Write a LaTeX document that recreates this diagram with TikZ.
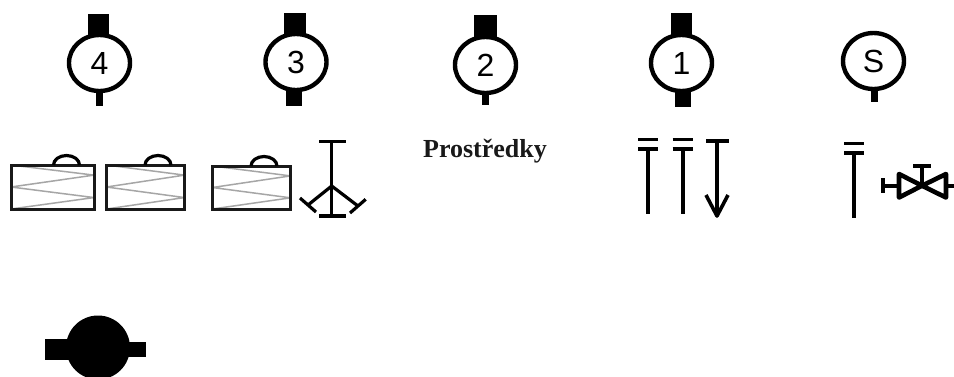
\documentclass[tikz,border=0pt]{standalone}
\usepackage{fontspec}
\setmainfont{Liberation Sans}
\newfontfamily\serifbold{Liberation Serif}
\usetikzlibrary{shapes.geometric}
\tikzset{
  dial/.style={ellipse,draw=black,line width=4.4pt,fill=white,minimum width=61pt,minimum height=56pt,inner sep=0pt,font=\fontsize{32}{32}\selectfont},
  solid block/.style={fill=black,draw=none},
  symline/.style={draw=black,line width=3.6pt},
  thinline/.style={draw=black,line width=3.2pt},
  casebox/.style={draw=black!90,line width=3pt},
  zig/.style={draw=black!35,line width=1.5pt,line join=round},
  caption/.style={font=\serifbold\bfseries\fontsize{26}{27}\selectfont,inner sep=0pt,text=black!90}
}
\newcommand{\suitcase}[5]{% x1 x2 y1 y2 handlecenter
  \draw[zig] (#1,#3) -- (#2,{#3+(#4-#3)*0.23}) -- (#1,{(#3+#4)/2}) -- (#2,{#3+(#4-#3)*0.74}) -- (#1,#4);
  \draw[casebox] (#1,#3) rectangle (#2,#4);
  \draw[thinline] ({#5-13},#3) arc[start angle=180,end angle=360,x radius=13,y radius=9.5];
}
\newcommand{\postdouble}[3]{% x topy boty
  \draw[symline] ({#1-10},{#2-9.5}) -- ({#1+10},{#2-9.5});
  \draw[symline] ({#1-10},#2) -- ({#1+10},#2);
  \draw[symline] (#1,#2) -- (#1,#3);
}
\begin{document}
\begin{tikzpicture}[x=1pt,y=-1pt]
\clip (0,0) rectangle (954,376);
\fill[white] (0,0) rectangle (954,376);
% motors
\fill[solid block] (88,14) rectangle (109,36);
\fill[solid block] (96,88) rectangle (102.5,105.5);
\node[dial] (m4) at (99.5,63) {4};
\fill[solid block] (284,13) rectangle (306,35);
\fill[solid block] (286,88) rectangle (302,106);
\node[dial] (m3) at (296,62) {3};
\fill[solid block] (474,15) rectangle (496.5,38);
\fill[solid block] (482,90) rectangle (489,105);
\node[dial] (m2) at (485.5,65) {2};
\fill[solid block] (671,13) rectangle (692,36);
\fill[solid block] (674.5,88) rectangle (690.5,107);
\node[dial] (m1) at (681.5,63) {1};
\fill[solid block] (871,86) rectangle (878,102);
\node[dial] (ms) at (873.5,61) {S};
% suitcases
\suitcase{11}{94}{165}{209}{66.5}
\suitcase{106.5}{184.5}{165}{209}{158}
\suitcase{212.5}{290.5}{166}{209}{264}
% tripod
\draw[thinline] (319,141.5) -- (346,141.5);
\draw[thinline] (319,216) -- (346,216);
\draw[thinline] (331.7,141.5) -- (331.7,216);
\draw[thinline,line join=round] (308,205) -- (331.7,186) -- (358,206);
\draw[thinline] (300,198) -- (316,212);
\draw[thinline] (365.7,199.3) -- (350,213);
% caption
\node[caption] (cap) at (485,151) {Prostředky};
% instruments
\postdouble{648}{149}{214}
\postdouble{682.7}{149}{214}
\draw[symline] (706,141) -- (729,141);
\draw[symline] (717,141) -- (717,216);
\draw[symline,line join=round] (706,195) -- (717,216) -- (728,195);
\postdouble{854}{153}{218}
% valve
\draw[symline] (883,178) -- (883,193);
\draw[symline] (883,185.7) -- (899,185.7);
\draw[draw=black,line width=4.6pt,line join=round] (899,174) -- (922,185.7) -- (946,174) -- (946,197.5) -- (922,185.7) -- (899,197.5) -- cycle;
\draw[symline] (946,185.7) -- (954,185.7);
\draw[symline] (922,185.7) -- (922,166);
\draw[symline] (913,166) -- (931,166);
% pump
\fill[solid block] (45,339) rectangle (70,360);
\fill[solid block] (125,342) rectangle (146,357);
\fill[black] (98,347.5) circle[radius=32];
\end{tikzpicture}
\end{document}
